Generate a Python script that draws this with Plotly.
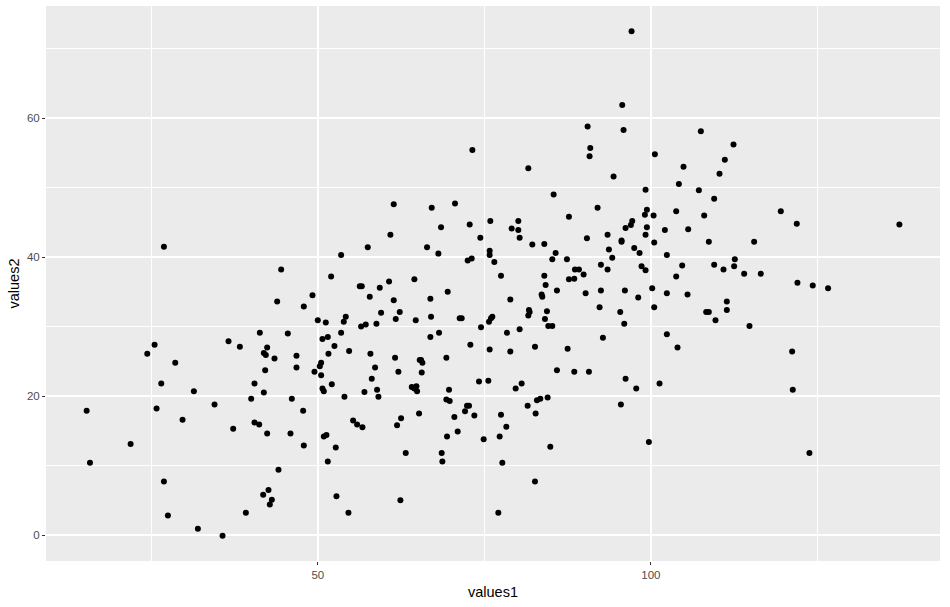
import plotly.graph_objects as go

values1 = [
    15.3, 15.8, 21.9, 24.4, 25.5, 25.8, 26.5, 26.9, 26.9, 27.5,
    28.6, 29.7, 31.4, 32.0, 34.5, 35.7, 36.6, 37.3, 38.3, 39.2,
    40.0, 40.5, 40.5, 41.2, 41.3, 41.9, 41.8, 41.9, 42.1, 42.2,
    42.4, 42.4, 42.6, 42.8, 43.1, 43.5, 43.9, 44.1, 44.5, 45.5,
    45.9, 46.1, 46.8, 46.8, 47.8, 47.9, 47.9, 49.2, 49.5, 50.0,
    50.3, 50.5, 50.5, 50.7, 50.7, 50.9, 50.9, 51.2, 51.3, 51.5,
    51.5, 51.6, 52.0, 52.1, 52.5, 52.7, 52.8, 53.5, 53.5, 53.9,
    54.0, 54.2, 54.6, 54.7, 55.3, 55.9, 56.3, 56.6, 56.5, 56.7,
    57.0, 57.2, 57.5, 57.8, 57.9, 58.1, 58.6, 58.8, 58.9, 59.1,
    59.3, 59.5, 60.7, 60.9, 61.4, 61.4, 61.6, 61.7, 61.9, 62.1,
    62.3, 62.4, 62.5, 63.2, 64.1, 64.5, 64.5, 64.7, 64.8, 64.9,
    65.2, 65.3, 65.5, 65.6, 65.7, 66.4, 66.9, 66.9, 67.0, 67.1,
    68.1, 68.2, 68.5, 68.6, 68.7, 69.3, 69.3, 69.4, 69.5, 69.7,
    69.8, 70.5, 70.6, 71.0, 71.3, 71.6, 72.1, 72.4, 72.5, 72.7,
    72.8, 72.9, 73.1, 73.2, 73.5, 74.2, 74.4, 74.5, 74.9, 75.6,
    75.7, 75.8, 75.8, 75.8, 75.9, 76.0, 76.2, 76.5, 77.1, 77.3,
    77.5, 77.5, 77.7, 78.3, 78.4, 78.9, 78.9, 79.1, 79.7, 80.1,
    80.1, 80.3, 80.3, 80.6, 81.5, 81.6, 81.6, 81.7, 81.8, 82.2,
    82.6, 82.6, 82.7, 82.9, 83.4, 83.6, 83.7, 84.0, 84.0, 84.1,
    84.2, 84.4, 84.5, 84.6, 84.9, 85.2, 85.2, 85.4, 85.7, 85.9,
    85.9, 87.4, 87.5, 87.7, 87.7, 88.5, 88.5, 88.6, 89.2, 89.9,
    90.2, 90.4, 90.5, 90.7, 90.8, 90.9, 92.0, 92.3, 92.5, 92.5,
    92.8, 93.5, 93.5, 93.7, 94.2, 94.4, 95.4, 95.5, 95.6, 95.6,
    95.7, 95.9, 96.0, 96.1, 96.2, 96.2, 97.0, 97.1, 97.2, 97.5,
    97.8, 98.1, 98.3, 98.6, 99.1, 99.2, 99.2, 99.2, 99.4, 99.4,
    99.7, 100.2, 100.4, 100.5, 100.5, 100.6, 101.3, 102.1, 102.4, 102.4,
    102.4, 103.8, 103.8, 104.0, 104.2, 104.7, 104.9, 105.5, 105.6, 107.2,
    107.5, 108.0, 108.3, 108.7, 108.7, 109.5, 109.5, 109.7, 110.3, 110.9,
    111.1, 111.4, 111.4, 112.4, 112.5, 112.6, 114.0, 114.8, 115.5, 116.5,
    119.5, 121.2, 121.3, 121.9, 122.0, 123.8, 124.3, 126.6, 137.3,
]

values2 = [
    17.9, 10.4, 13.1, 26.1, 27.4, 18.2, 21.8, 41.5, 7.7, 2.8,
    24.8, 16.6, 20.7, 0.9, 18.8, -0.1, 27.9, 15.3, 27.1, 3.2,
    19.6, 21.8, 16.2, 15.9, 29.1, 20.5, 5.8, 26.2, 23.7, 25.9,
    27.0, 14.6, 6.5, 4.4, 5.1, 25.4, 33.6, 9.4, 38.2, 29.0,
    14.6, 19.6, 25.8, 24.1, 17.9, 32.9, 12.9, 34.5, 23.5, 30.9,
    24.3, 24.8, 23.0, 28.2, 21.1, 20.7, 14.2, 30.6, 14.4, 28.5,
    10.6, 26.1, 37.2, 21.7, 27.2, 12.6, 5.6, 40.3, 29.1, 30.7,
    19.9, 31.4, 3.2, 26.5, 16.5, 15.9, 35.8, 35.8, 30.0, 15.5,
    20.6, 30.3, 41.4, 34.3, 26.1, 22.5, 24.1, 30.4, 20.9, 19.9,
    35.6, 32.0, 36.5, 43.2, 47.6, 33.8, 25.5, 31.1, 15.8, 23.5,
    32.1, 5.0, 16.8, 11.8, 21.3, 21.1, 36.8, 30.9, 21.4, 20.7,
    17.5, 25.2, 25.2, 23.4, 24.8, 41.4, 34.0, 28.5, 31.4, 47.1,
    40.5, 29.1, 44.3, 11.8, 10.6, 25.5, 19.5, 14.2, 35.0, 20.9,
    19.3, 17.0, 47.7, 14.9, 31.2, 31.2, 17.8, 18.6, 39.5, 18.6,
    44.7, 27.4, 39.8, 55.4, 17.2, 22.1, 42.8, 29.9, 13.8, 22.2,
    30.7, 26.7, 40.9, 40.3, 45.2, 31.2, 31.4, 39.3, 3.2, 14.2,
    37.3, 17.3, 10.4, 15.6, 29.1, 33.9, 26.4, 44.1, 21.1, 45.2,
    43.9, 42.8, 29.6, 21.8, 18.6, 52.8, 31.6, 32.4, 32.1, 41.8,
    27.1, 7.7, 17.5, 19.4, 19.6, 34.6, 34.3, 41.9, 37.3, 31.1,
    36.0, 32.2, 19.8, 30.1, 12.7, 30.1, 39.7, 49.0, 40.6, 35.2,
    23.7, 39.7, 26.8, 36.8, 45.8, 36.9, 23.5, 38.2, 38.2, 37.5,
    34.8, 42.7, 58.8, 23.5, 54.5, 55.7, 47.1, 32.8, 35.2, 38.9,
    28.4, 38.2, 43.2, 41.1, 39.9, 51.6, 32.1, 18.8, 42.4, 42.2,
    61.9, 58.3, 30.4, 35.2, 44.2, 22.5, 44.6, 72.5, 45.2, 41.3,
    21.1, 34.2, 40.6, 38.7, 46.1, 38.1, 43.2, 49.7, 46.8, 44.3,
    13.4, 35.5, 46.0, 42.1, 32.8, 54.8, 21.8, 43.9, 40.3, 34.8,
    28.9, 46.6, 37.2, 27.0, 50.5, 38.8, 53.0, 34.6, 44.0, 49.6,
    58.1, 46.0, 32.1, 32.1, 42.2, 48.4, 38.9, 30.9, 52.0, 38.2,
    54.0, 33.6, 32.4, 56.2, 38.7, 39.7, 37.6, 30.1, 42.2, 37.6,
    46.6, 26.4, 20.9, 44.8, 36.3, 11.8, 35.9, 35.5, 44.7,
]

x_title = "values1"
y_title = "values2"


def expand(vals, frac=0.05):
    lo, hi = min(vals), max(vals)
    pad = (hi - lo) * frac
    return [lo - pad, hi + pad]


fig = go.Figure(
    go.Scatter(
        x=values1,
        y=values2,
        mode="markers",
        marker=dict(color="black", size=6, line=dict(width=0)),
        hoverinfo="x+y",
    )
)

font_family = "Liberation Sans, Arial, sans-serif"

axis_common = dict(
    showgrid=True,
    gridcolor="white",
    gridwidth=1.6,
    zeroline=False,
    showline=False,
    automargin=False,
    ticks="outside",
    ticklen=3,
    tickwidth=1,
    tickcolor="#333333",
    tickfont=dict(family=font_family, size=11.5, color="#4D4D4D"),
)

fig.update_layout(
    width=950,
    height=607,
    autosize=False,
    paper_bgcolor="white",
    plot_bgcolor="#EBEBEB",
    margin=dict(l=46, r=10, t=6, b=46),
    showlegend=False,
    font=dict(family=font_family),
    xaxis=dict(
        **axis_common,
        range=expand(values1),
        tick0=0,
        dtick=50,
        minor=dict(dtick=25, tick0=0, showgrid=True, gridcolor="white", gridwidth=0.7, ticks=""),
    ),
    yaxis=dict(
        **axis_common,
        range=expand(values2),
        tick0=0,
        dtick=20,
        minor=dict(dtick=10, tick0=0, showgrid=True, gridcolor="white", gridwidth=0.7, ticks=""),
    ),
    annotations=[
        dict(
            text=x_title, xref="paper", yref="paper", x=0.5, y=0,
            xanchor="center", yanchor="middle", yshift=-31, showarrow=False,
            font=dict(family=font_family, size=14.5, color="black"),
        ),
        dict(
            text=y_title, xref="paper", yref="paper", x=0, y=0.5,
            xanchor="center", yanchor="middle", xshift=-33, textangle=-90, showarrow=False,
            font=dict(family=font_family, size=14.5, color="black"),
        ),
    ],
)

fig.write_html(
    "out.html",
    config={"responsive": False, "displayModeBar": False},
    post_script="document.body.style.margin='0';document.body.style.overflow='hidden';",
)
